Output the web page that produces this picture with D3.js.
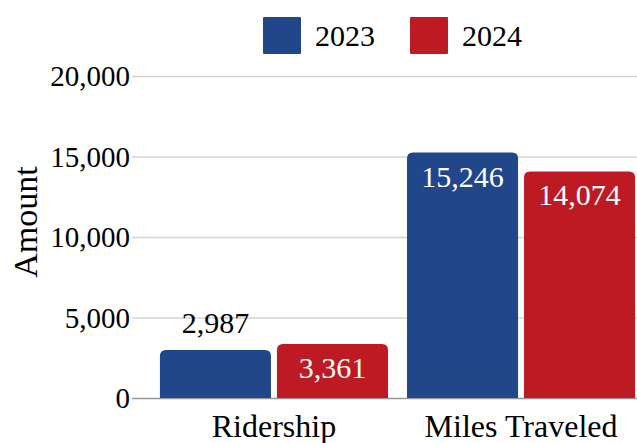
<!DOCTYPE html>
<html>
<head>
<meta charset="utf-8">
<script src="https://cdn.jsdelivr.net/npm/d3@7"></script>
<style>
  body { margin: 0; background: #fff; }
  svg text { font-family: "Liberation Serif", "DejaVu Serif", serif; }
</style>
</head>
<body>
<div id="container"></div>
<script>
/* DATA */
const categories = ["Ridership", "Miles Traveled"];
const years = ["2023", "2024"];
const values2023 = [2987, 15246];
const values2024 = [3361, 14074];
const yTicks = [0, 5000, 10000, 15000, 20000];
const colors = ["#21468a", "#bd1a24"];

/* CONSTANTS */
const width = 637,
  height = 443,
  margin = { top: 76, bottom: 45, left: 132 };

const rows = categories.map((c, i) => ({ category: c, values: [values2023[i], values2024[i]] }));

const svg = d3.select("#container")
  .append("svg")
  .attr("width", width)
  .attr("height", height);

// + SCALES
const yScale = d3.scaleLinear()
  .domain([0, 20000])
  .range([height - margin.bottom, margin.top]);

// chart is wider than the window, the right side gets cut off
const xScale = d3.scaleBand()
  .domain(categories)
  .range([margin.left, 663])
  .paddingInner(0.077)
  .paddingOuter(0.113);

const x1 = d3.scaleBand()
  .domain(years)
  .range([0, xScale.bandwidth()])
  .paddingInner(0.051);

const colorScale = d3.scaleOrdinal().domain(years).range(colors);

// + GRID
const yAxis = d3.axisLeft(yScale)
  .tickValues(yTicks)
  .tickSize(-(width - margin.left))
  .tickPadding(2)
  .tickFormat(d3.format(","));

const grid = svg.append("g")
  .attr("transform", `translate(${margin.left},0)`)
  .call(yAxis)
  .attr("font-family", null);

grid.select(".domain").remove();
grid.selectAll(".tick line")
  .attr("stroke", d => d === 0 ? "#999" : "#d4d4d4")
  .attr("stroke-width", 1.3);
grid.selectAll(".tick text")
  .attr("font-size", 29)
  .attr("fill", "#000")
  .attr("dy", "0.33em");

// + BARS (rounded top corners)
const r = 6;
function barPath(x, y, w, h) {
  const rr = Math.min(r, h);
  return `M${x},${y + h}V${y + rr}Q${x},${y} ${x + rr},${y}H${x + w - rr}Q${x + w},${y} ${x + w},${y + rr}V${y + h}Z`;
}

const groups = svg.selectAll("g.group")
  .data(rows)
  .join("g")
  .attr("class", "group")
  .attr("transform", d => `translate(${xScale(d.category)},0)`);

const bars = groups.selectAll("g.bar")
  .data(d => d.values.map((v, i) => ({ year: years[i], value: v })))
  .join("g")
  .attr("class", "bar");

bars.append("path")
  .attr("fill", d => colorScale(d.year))
  .attr("d", d => barPath(x1(d.year), yScale(d.value), x1.bandwidth(), yScale(0) - yScale(d.value)));

// labels: inside in white when bar is tall enough, else above in black
bars.append("text")
  .attr("x", d => x1(d.year) + x1.bandwidth() / 2)
  .attr("y", d => {
    const h = yScale(0) - yScale(d.value);
    return h > 50 ? yScale(d.value) + 34 : yScale(d.value) - 17;
  })
  .attr("text-anchor", "middle")
  .attr("font-size", 30)
  .attr("fill", d => (yScale(0) - yScale(d.value)) > 50 ? "#fff" : "#000")
  .text(d => d3.format(",")(d.value));

// + CATEGORY LABELS
svg.append("g")
  .selectAll("text")
  .data(categories)
  .join("text")
  .attr("x", d => xScale(d) + xScale.bandwidth() / 2)
  .attr("y", 437)
  .attr("text-anchor", "middle")
  .attr("font-size", 32)
  .text(d => d);

// + Y AXIS TITLE
svg.append("text")
  .attr("transform", `translate(37,222) rotate(-90)`)
  .attr("text-anchor", "middle")
  .attr("font-size", 34)
  .text("Amount");

// + LEGEND
const legendX = [263, 410];
const legend = svg.append("g")
  .selectAll("g")
  .data(years)
  .join("g")
  .attr("transform", (d, i) => `translate(${legendX[i]},17)`);

legend.append("rect")
  .attr("width", 38)
  .attr("height", 37)
  .attr("rx", 1)
  .attr("fill", d => colorScale(d));

legend.append("text")
  .attr("x", 52)
  .attr("y", 29)
  .attr("font-size", 30)
  .text(d => d);
</script>
</body>
</html>
